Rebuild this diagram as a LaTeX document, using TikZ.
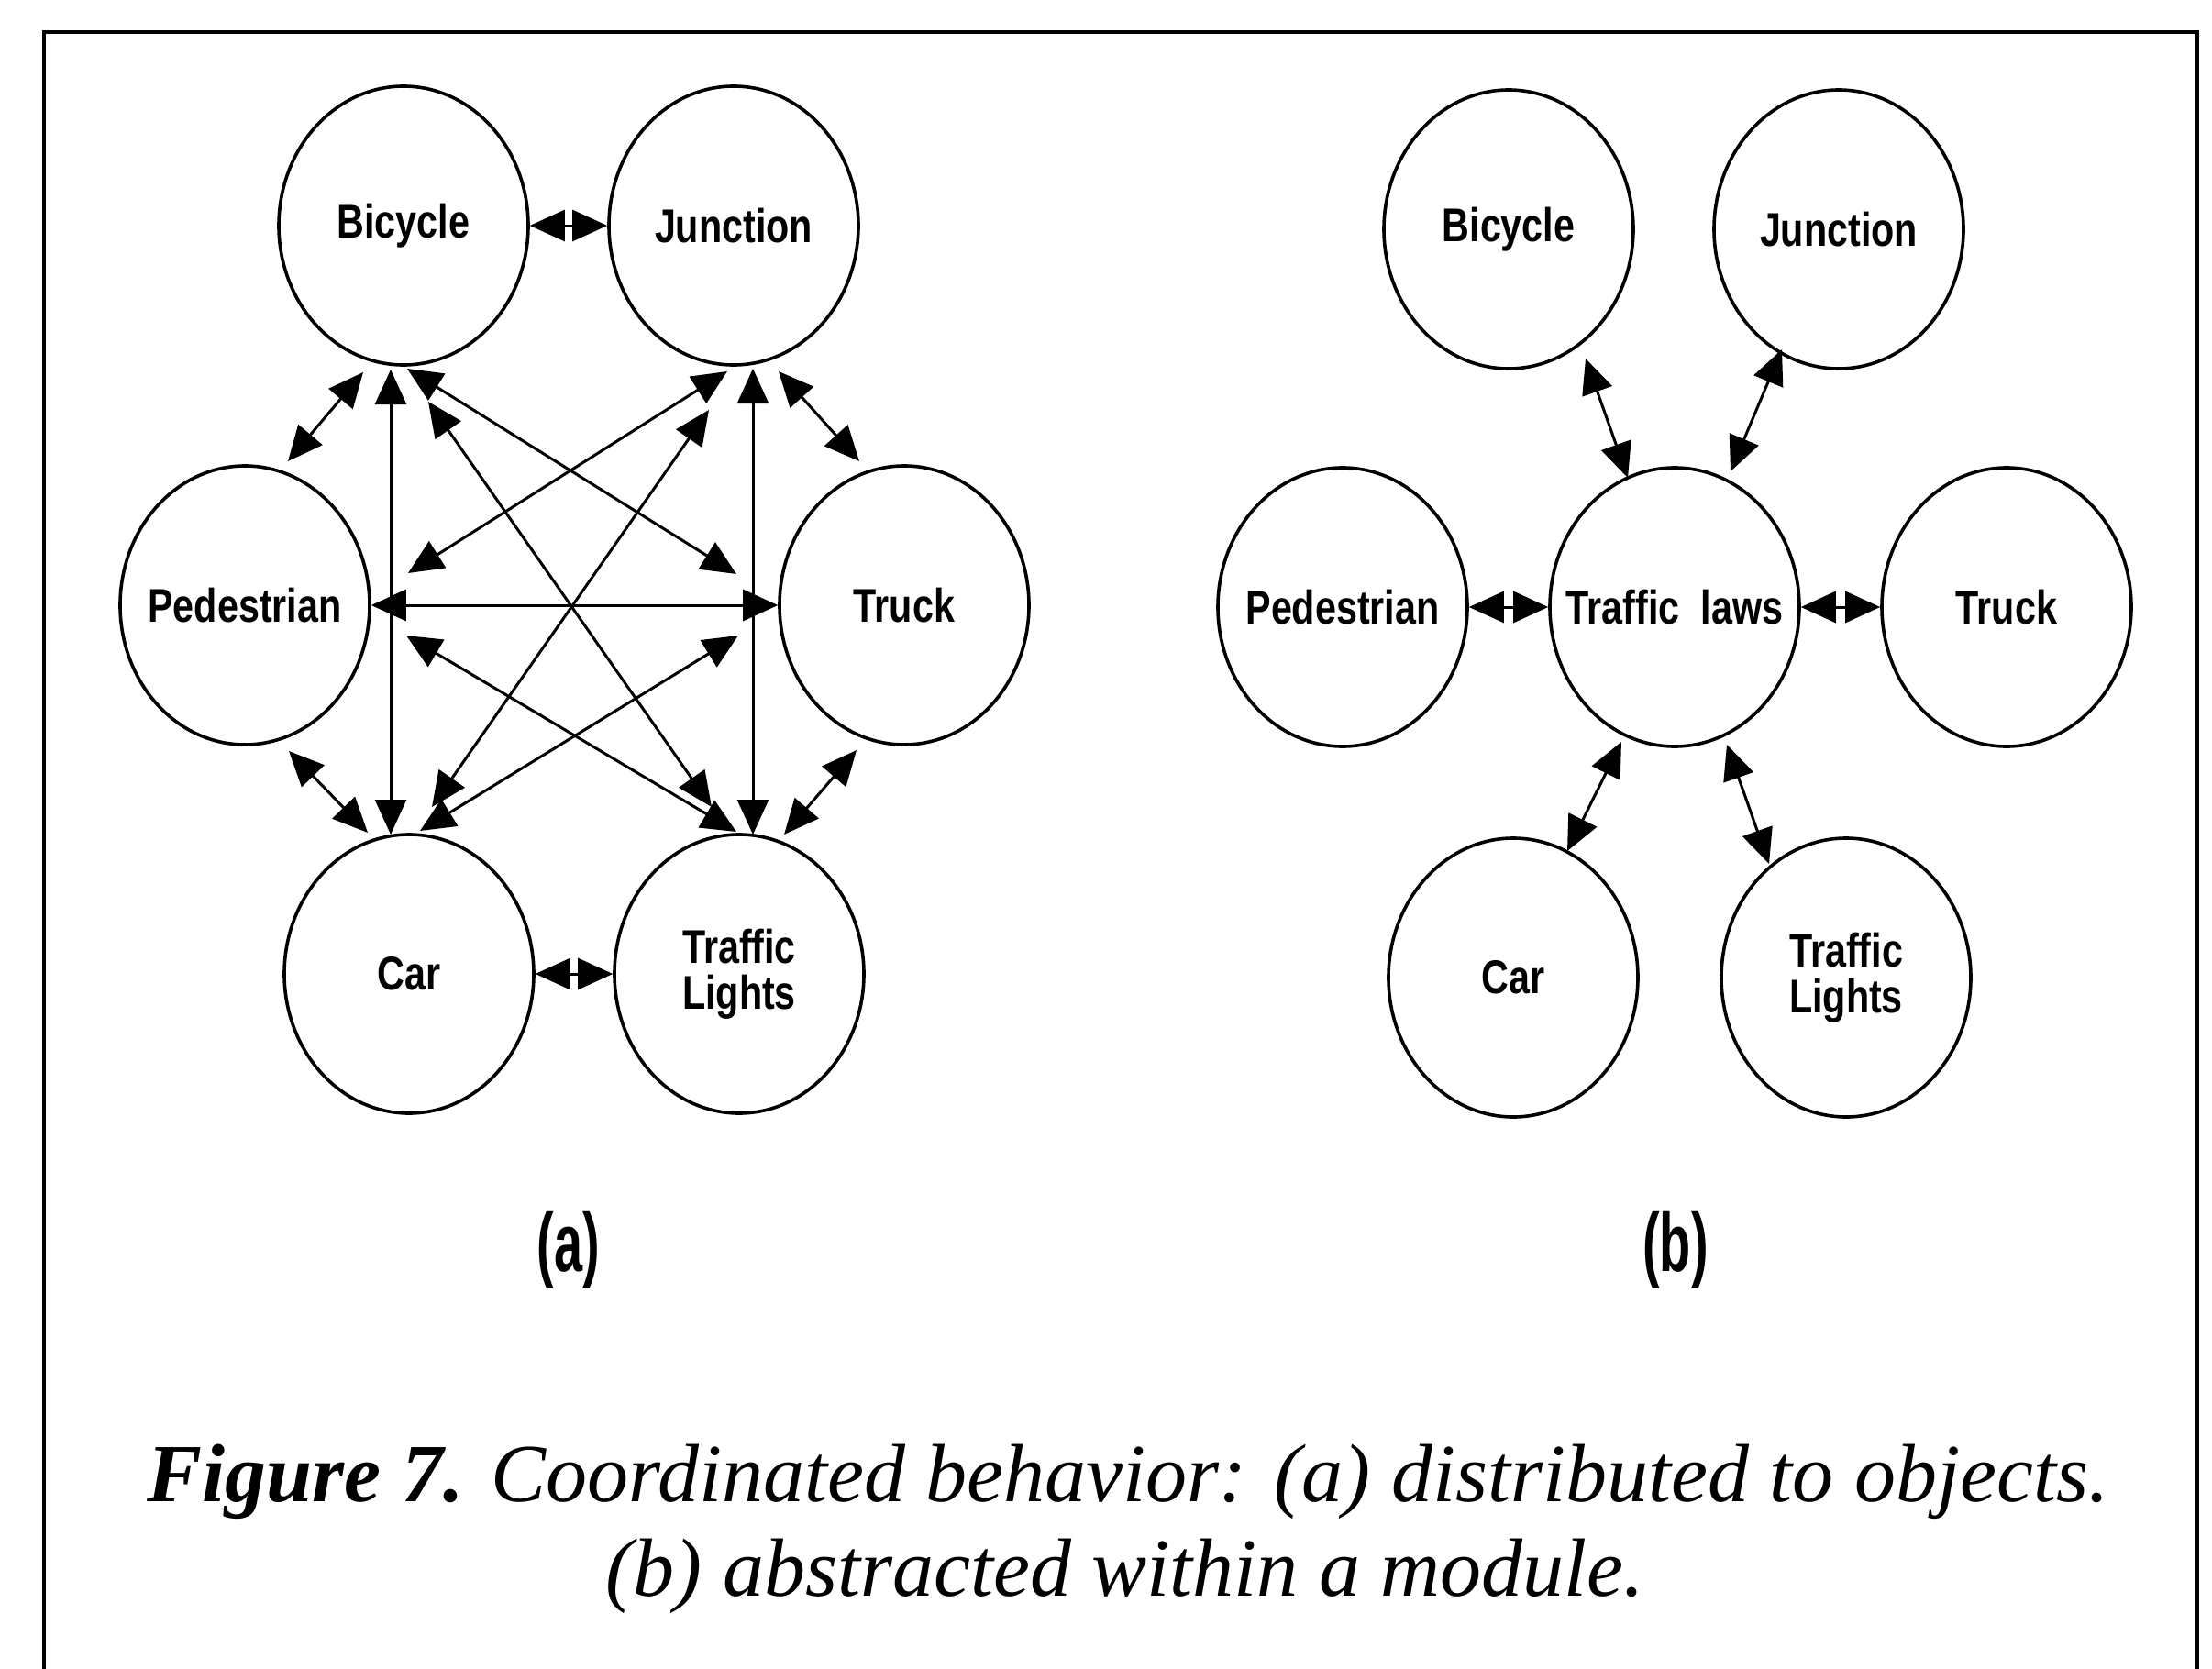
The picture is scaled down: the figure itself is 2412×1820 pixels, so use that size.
\documentclass[tikz,border=0pt]{standalone}
\usepackage{fontspec}
\usetikzlibrary{shapes.geometric,arrows.meta,calc}
\newfontfamily\lblfont[FakeStretch=0.8]{Liberation Sans}
\newfontfamily\tagfont[FakeStretch=0.62]{Liberation Sans}
\newfontfamily\capfont{Liberation Serif}
% zero-width box so that long labels do not enlarge the ellipse
\newcommand\zerowd[1]{\makebox[0pt]{#1}}

\begin{document}
\begin{tikzpicture}[x=0.25pt,y=-0.25pt,
  >={Triangle[length=9.5pt,width=8.5pt]},
  obj/.style={ellipse, draw, line width=0.9pt, minimum width=68pt,
    minimum height=76pt, inner sep=0pt, align=center,
    font={\lblfont\bfseries\fontsize{12.9pt}{12.5pt}\selectfont}},
  link/.style={<->, line width=0.75pt},
  paneltag/.style={inner sep=0pt, font={\tagfont\bfseries\fontsize{22.5pt}{26pt}\selectfont}},
  captext/.style={inner sep=0pt, font={\capfont\itshape\fontsize{22.5pt}{26pt}\selectfont}},
  frame/.style={line width=1.2pt}]

\useasboundingbox (0,0) rectangle (2412,1820);

% open frame round the figure
\draw[frame] (48,1820) -- (48,35) -- (2396,35) -- (2396,1820);

% ---------- (a) coordination distributed to the objects ----------
\node[obj] (bicA) at (440,246)  {Bicycle};
\node[obj] (junA) at (800,246)  {Junction};
\node[obj] (pedA) at (267,660)  {\zerowd{Pedestrian}};
\node[obj] (truA) at (986,660)  {Truck};
\node[obj] (carA) at (446,1062) {Car};
\node[obj] (tlA)  at (806,1062) {Traffic\\Lights};

% neighbours round the ring
\draw[link] (bicA.east) -- (junA.west);
\draw[link] ($(bicA)+(-44,160)$) -- ($(pedA)+(47,-157)$);
\draw[link] ($(junA)+(49,159)$)  -- ($(truA)+(-49,-157)$);
\draw[link] ($(pedA)+(48,159)$)  -- ($(carA)+(-45,-154)$);
\draw[link] ($(truA)+(-52,158)$) -- ($(tlA)+(49,-152)$);
\draw[link] (carA.east) -- (tlA.west);
% verticals and horizontal
\draw[link] ($(bicA)+(-14,157)$) -- ($(carA)+(-20,-152)$);
\draw[link] ($(junA)+(21,156)$)  -- ($(tlA)+(15,-152)$);
\draw[link] (pedA.east) -- (truA.west);
% diagonals
\draw[link] ($(bicA)+(4,156)$)   -- ($(truA)+(-183,-34)$);
\draw[link] ($(junA)+(-7,159)$)  -- ($(pedA)+(178,-35)$);
\draw[link] ($(pedA)+(176,33)$)  -- ($(tlA)+(-3,-155)$);
\draw[link] ($(carA)+(12,-156)$) -- ($(truA)+(-181,33)$);
\draw[link] ($(bicA)+(27,192)$)  -- ($(tlA)+(-30,-182)$);
\draw[link] ($(junA)+(-27,201)$) -- ($(carA)+(25,-182)$);

\node[paneltag, anchor=base] (tagA) at (620,1386) {(a)};

% ---------- (b) coordination abstracted within a module ----------
\node[obj] (bicB) at (1645,250)  {Bicycle};
\node[obj] (junB) at (2005,250)  {Junction};
\node[obj] (pedB) at (1464,662)  {\zerowd{Pedestrian}};
\node[obj] (laws) at (1826,662)  {\zerowd{Traffic\hspace{0.45em}laws}};
\node[obj] (truB) at (2188,662)  {Truck};
\node[obj] (carB) at (1650,1066) {Car};
\node[obj] (tlB)  at (2013,1066) {Traffic\\Lights};

\draw[link] ($(bicB)+(84,141)$)  -- ($(laws)+(-51,-141)$);
\draw[link] ($(junB)+(-62,131)$) -- ($(laws)+(61,-148)$);
\draw[link] (pedB.east) -- (laws.west);
\draw[link] (laws.east) -- (truB.west);
\draw[link] ($(laws)+(-58,147)$) -- ($(carB)+(59,-138)$);
\draw[link] ($(laws)+(57,150)$)  -- ($(tlB)+(-84,-124)$);

\node[paneltag, anchor=base] (tagB) at (1827,1386) {(b)};

% ---------- caption ----------
\node[captext, anchor=base] (cap1) at (1230,1637)
  {\textbf{Figure 7.} Coordinated behavior: (a) distributed to objects.};
\node[captext, anchor=base] (cap2) at (1227,1740)
  {(b) abstracted within a module.};
\end{tikzpicture}
\end{document}
